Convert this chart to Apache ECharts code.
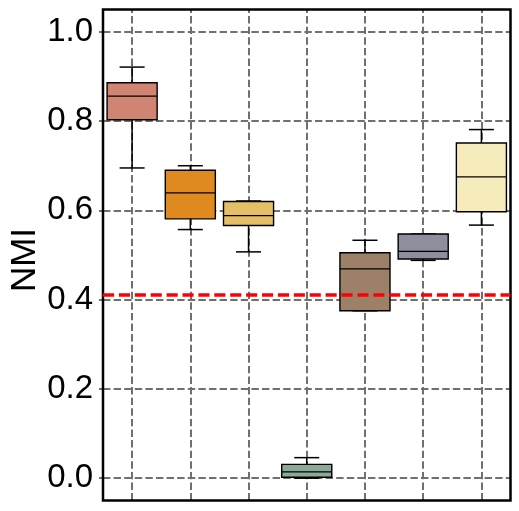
<!DOCTYPE html>
<html>
<head>
<meta charset="utf-8">
<script src="https://cdn.jsdelivr.net/npm/echarts@6/dist/echarts.min.js"></script>
<style>
  html, body { margin: 0; padding: 0; background: #fff; }
  #chart { width: 519px; height: 511px; }
</style>
</head>
<body>
<div id="chart"></div>
<script>
// one box per method
const categories = ['m1', 'm2', 'm3', 'm4', 'm5', 'm6', 'm7'];
const mins    = [0.695, 0.557, 0.507, 0.000, 0.375, 0.488, 0.567];
const q1s     = [0.803, 0.581, 0.566, 0.002, 0.375, 0.491, 0.597];
const medians = [0.856, 0.639, 0.588, 0.014, 0.469, 0.508, 0.675];
const q3s     = [0.886, 0.690, 0.620, 0.031, 0.505, 0.547, 0.751];
const maxs    = [0.921, 0.700, 0.621, 0.046, 0.533, 0.547, 0.781];
const boxColors = ['#D08472', '#DF8A1F', '#E4BF68', '#8AAA96', '#9C8068', '#8E8E9C', '#F5EBBB'];
const yTicks = [0, 0.2, 0.4, 0.6, 0.8, 1.0];
const baseline = 0.411;

const boxData = categories.map((c, i) => [i, mins[i], q1s[i], medians[i], q3s[i], maxs[i]]);

const gridDash = { color: '#707070', width: 2, type: [7.4, 3.2] };

function renderBox(params, api) {
  const i = api.value(0);
  const x = api.coord([i, 0])[0];
  const bw = api.size([1, 0])[0] * 0.86;
  const yMin = api.coord([i, api.value(1)])[1];
  const yQ1 = api.coord([i, api.value(2)])[1];
  const yMed = api.coord([i, api.value(3)])[1];
  const yQ3 = api.coord([i, api.value(4)])[1];
  const yMax = api.coord([i, api.value(5)])[1];
  const ln = { stroke: '#000', lineWidth: 1.5 };
  return {
    type: 'group',
    children: [
      { type: 'line', shape: { x1: x, y1: yQ3, x2: x, y2: yMax }, style: ln },
      { type: 'line', shape: { x1: x, y1: yQ1, x2: x, y2: yMin }, style: ln },
      { type: 'line', shape: { x1: x - bw / 4, y1: yMax, x2: x + bw / 4, y2: yMax }, style: ln },
      { type: 'line', shape: { x1: x - bw / 4, y1: yMin, x2: x + bw / 4, y2: yMin }, style: ln },
      {
        type: 'rect',
        shape: { x: x - bw / 2, y: yQ3, width: bw, height: yQ1 - yQ3 },
        style: { fill: boxColors[params.dataIndex], stroke: '#000', lineWidth: 1.4 }
      },
      { type: 'line', shape: { x1: x - bw / 2, y1: yMed, x2: x + bw / 2, y2: yMed }, style: { stroke: '#000', lineWidth: 1.3 } }
    ]
  };
}

const chart = echarts.init(document.getElementById('chart'));
chart.setOption({
  animation: false,
  grid: {
    left: 103, right: 8.5, top: 9.5, bottom: 10.5,
    outerBoundsMode: 'none',
    containLabel: false,
    show: true, borderColor: '#000', borderWidth: 2.5, z: 3
  },
  // y axis title, placed by hand (axis name kept getting pushed left)
  graphic: [{
    type: 'text',
    x: 25,
    y: 260,
    rotation: Math.PI / 2,
    style: {
      text: 'NMI',
      fontFamily: 'Liberation Sans',
      fontSize: 35,
      fill: '#000',
      align: 'center',
      verticalAlign: 'middle'
    }
  }],
  xAxis: {
    type: 'category',
    data: categories,
    axisLine: { show: false },
    axisTick: { show: false },
    axisLabel: { show: false },
    splitLine: { show: false }
  },
  yAxis: {
    type: 'value',
    min: -0.05,
    max: 1.05,
    axisLine: { show: false },
    axisTick: { show: true, length: 4, customValues: yTicks, lineStyle: { color: '#444', width: 1.5 } },
    axisLabel: {
      customValues: yTicks,
      margin: 10,
      fontFamily: 'Liberation Sans',
      fontSize: 33,
      color: '#000',
      formatter: v => v.toFixed(1)
    },
    splitLine: { show: false }
  },
  series: [
    {
      type: 'line',
      data: [],
      silent: true,
      markLine: {
        silent: true,
        z: 1,
        symbol: 'none',
        label: { show: false },
        lineStyle: gridDash,
        emphasis: { disabled: true },
        data: categories.map(c => ({ xAxis: c })).concat(yTicks.map(v => ({ yAxis: v })))
      }
    },
    {
      type: 'custom',
      renderItem: renderBox,
      data: boxData,
      encode: { x: 0, y: [1, 2, 3, 4, 5] },
      z: 2,
      markLine: {
        silent: true,
        z: 5,
        symbol: 'none',
        label: { show: false },
        lineStyle: { color: '#FF0000', width: 3.5, type: [11.1, 4.8] },
        emphasis: { disabled: true },
        data: [{ yAxis: baseline }]
      }
    }
  ]
});
</script>
</body>
</html>
